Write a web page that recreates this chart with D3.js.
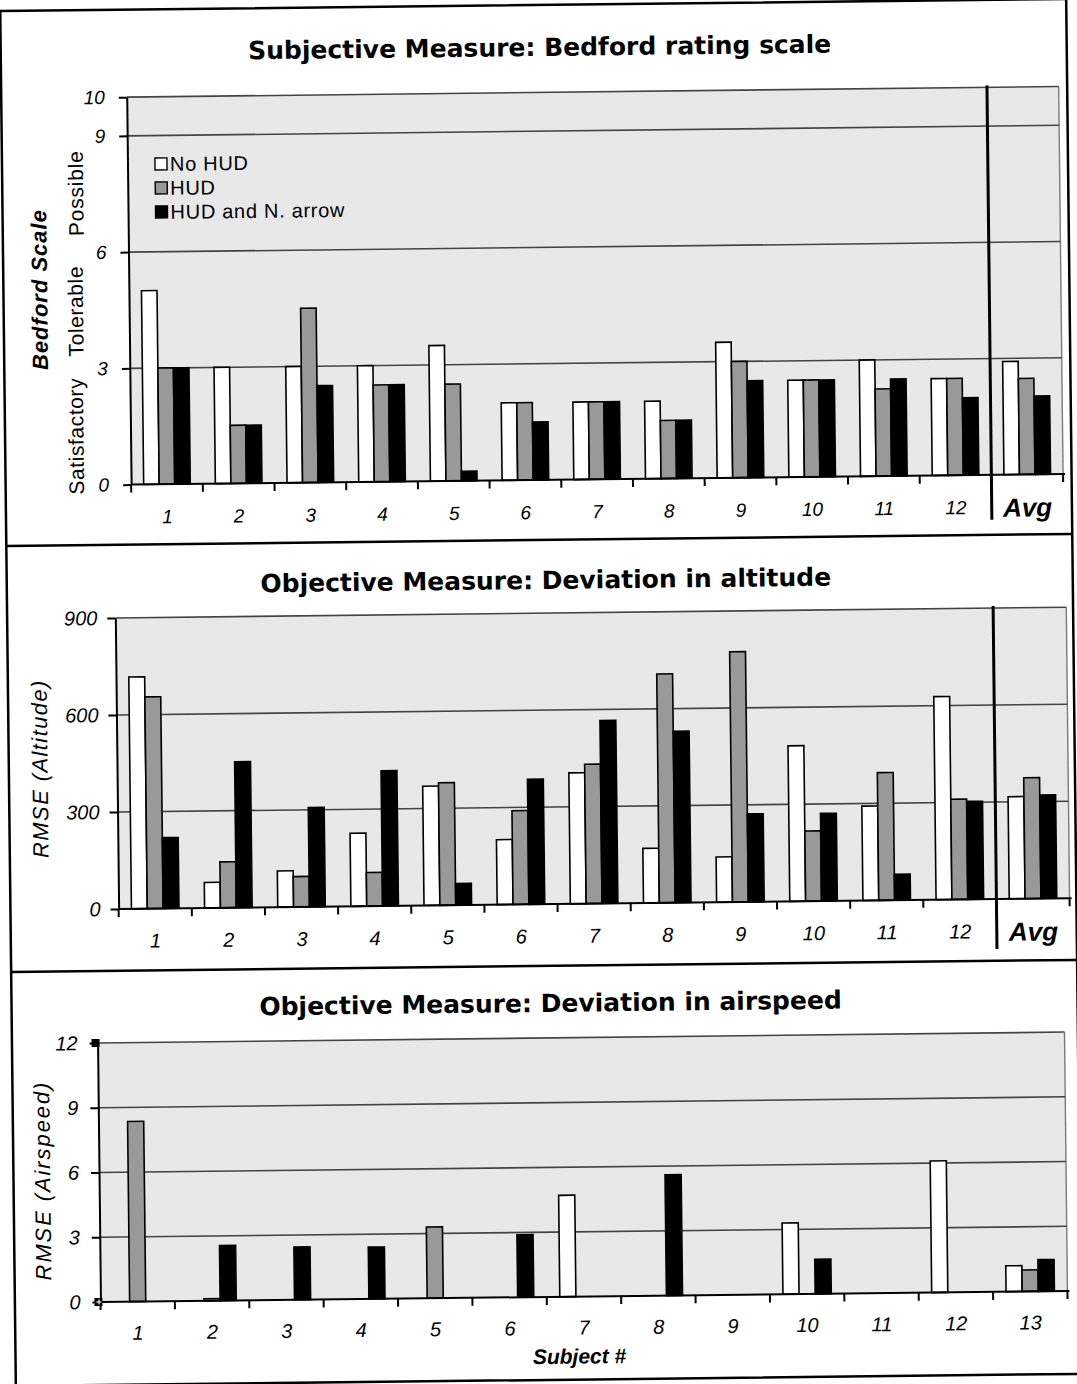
<!DOCTYPE html>
<html><head><meta charset="utf-8">
<script src="https://cdn.jsdelivr.net/npm/d3@7"></script>
<style>body{margin:0;background:#fff} svg{display:block}</style>
</head><body>
<svg id="c" width="1077" height="1384"></svg>
<script>
// ---------- data ----------
const seriesNames = ["No HUD", "HUD", "HUD and N. arrow"];
const seriesFill = ["#ffffff", "#999999", "#000000"];

const subjectsAvg = ["1","2","3","4","5","6","7","8","9","10","11","12","Avg"];
const subjects13 = ["1","2","3","4","5","6","7","8","9","10","11","12","13"];

const bedfordNoHUD = [5, 3, 3, 3, 3.5, 2, 2, 2, 3.5, 2.5, 3, 2.5, 2.92];
const bedfordHUD   = [3, 1.5, 4.5, 2.5, 2.5, 2, 2, 1.5, 3, 2.5, 2.25, 2.5, 2.48];
const bedfordArrow = [3, 1.5, 2.5, 2.5, 0.25, 1.5, 2, 1.5, 2.5, 2.5, 2.5, 2, 2.02];
const bedfordTicks = [0, 3, 6, 9, 10];

const altNoHUD = [717, 79, 112, 226, 369, 201, 405, 169, 140, 481, 292, 628, 316];
const altHUD   = [655, 142, 94, 104, 379, 290, 431, 708, 774, 217, 395, 310, 374];
const altArrow = [219, 451, 307, 418, 67, 387, 566, 530, 272, 271, 80, 303, 320];
const altTicks = [0, 300, 600, 900];

const airNoHUD = [0, 0, 0, 0, 0, 0, 4.7, 0, 0, 3.3, 0, 6.1, 1.2];
const airHUD   = [8.35, 0.1, 0, 0, 3.3, 0, 0, 0, 0, 0, 0, 0, 1.0];
const airArrow = [0, 2.55, 2.45, 2.4, 0, 2.9, 0, 5.6, 0, 1.6, 0, 0, 1.47];
const airTicks = [0, 3, 6, 9, 12];

// ---------- drawing ----------
const svg = d3.select("#c");
const root = svg.append("g").attr("transform", "rotate(-0.65 538 692)");

// frame
root.append("rect").attr("x", 8).attr("y", 5).attr("width", 1066).attr("height", 1375)
  .attr("fill", "none").attr("stroke", "#000").attr("stroke-width", 2.5);
[540, 966].forEach(y => root.append("line").attr("x1", 8).attr("x2", 1074).attr("y1", y).attr("y2", y)
  .attr("stroke", "#000").attr("stroke-width", 2.5));

const SANS = "'Liberation Sans', Arial, sans-serif";

function panel(cfg) {
  const g = root.append("g");
  const x = d3.scaleBand().domain(cfg.cats).range([cfg.x0, cfg.x1]);
  const bw = x.bandwidth();
  const xs = d3.scaleBand().domain(d3.range(3)).range([bw * 0.175, bw * 0.825]);
  const y = d3.scaleLinear().domain([0, cfg.max]).range([cfg.y0, cfg.yTop]);

  // title
  g.append("text").attr("x", 547).attr("y", cfg.titleY).attr("text-anchor", "middle")
    .attr("font-family", "'DejaVu Sans', Verdana, sans-serif").attr("font-weight", "bold")
    .attr("font-size", 25).text(cfg.title);

  // plot background
  g.append("rect").attr("x", cfg.x0).attr("y", y(cfg.max)).attr("width", cfg.x1 - cfg.x0)
    .attr("height", cfg.y0 - y(cfg.max)).attr("fill", "#e8e8e8");
  g.append("line").attr("x1", cfg.x1).attr("x2", cfg.x1).attr("y1", y(cfg.max)).attr("y2", cfg.y0)
    .attr("stroke", "#7a7a7a").attr("stroke-width", 1.4);

  // gridlines
  g.selectAll(".grid").data(cfg.ticks.filter(t => t > 0)).join("line")
    .attr("x1", cfg.x0).attr("x2", cfg.x1).attr("y1", d => y(d)).attr("y2", d => y(d))
    .attr("stroke", "#444").attr("stroke-width", 1.6);

  // bars
  const rows = [];
  cfg.series.forEach((arr, s) => arr.forEach((v, i) => { if (v > 0) rows.push({ cat: cfg.cats[i], s, v }); }));
  g.selectAll(".bar").data(rows).join("rect")
    .attr("x", d => x(d.cat) + xs(d.s)).attr("width", xs.bandwidth())
    .attr("y", d => y(d.v)).attr("height", d => cfg.y0 - y(d.v))
    .attr("fill", d => seriesFill[d.s]).attr("stroke", "#000").attr("stroke-width", 1.6);

  // y axis
  const ya = g.append("g").attr("transform", `translate(${cfg.x0},0)`)
    .call(d3.axisLeft(y).tickValues(cfg.ticks).tickSize(8).tickSizeOuter(0).tickPadding(cfg.yPad));
  ya.select(".domain").attr("stroke-width", 2);
  ya.selectAll(".tick line").attr("stroke-width", 2);
  ya.selectAll(".tick text").attr("font-family", SANS).attr("font-style", "italic")
    .attr("font-size", cfg.tickFont).attr("fill", "#000");

  // x axis
  g.append("line").attr("x1", cfg.x0).attr("x2", cfg.x1 + 2).attr("y1", cfg.y0).attr("y2", cfg.y0)
    .attr("stroke", "#000").attr("stroke-width", 2);
  const bounds = cfg.cats.map(c => x(c)).concat([cfg.x1]);
  g.selectAll(".xt").data(bounds).join("line")
    .attr("x1", d => d).attr("x2", d => d).attr("y1", cfg.y0).attr("y2", cfg.y0 + 8)
    .attr("stroke", "#000").attr("stroke-width", 2);
  const xa = g.append("g").attr("transform", `translate(0,${cfg.y0})`)
    .call(d3.axisBottom(x).tickSize(0).tickPadding(0));
  xa.select(".domain").remove();
  xa.selectAll(".tick text").attr("dy", null).attr("y", cfg.labelDy)
    .attr("font-family", SANS).attr("font-style", "italic").attr("font-size", cfg.tickFont).attr("fill", "#000");
  xa.selectAll(".tick text").filter(d => d === "Avg")
    .attr("font-weight", "bold").attr("font-size", 26).attr("y", cfg.labelDy + 3);

  // average separator
  if (cfg.sep) {
    const sx = x("Avg");
    g.append("line").attr("x1", sx).attr("x2", sx).attr("y1", y(cfg.max) - 2).attr("y2", cfg.y0 + cfg.sepBelow)
      .attr("stroke", "#000").attr("stroke-width", 3);
  }
  return { g, x, y };
}

// Panel 1
const p1 = panel({
  cats: subjectsAvg, series: [bedfordNoHUD, bedfordHUD, bedfordArrow], max: 10, ticks: bedfordTicks,
  x0: 133.5, x1: 1065.5, y0: 480, yTop: 92.5, title: "Subjective Measure: Bedford rating scale", titleY: 56,
  yPad: 14, tickFont: 19, labelDy: 39, sep: true, sepBelow: 45
});
// legend
const leg = p1.g.append("g");
seriesNames.forEach((n, i) => {
  const cy = 159.7 + i * 24;
  leg.append("rect").attr("x", 161).attr("y", cy - 6).attr("width", 12).attr("height", 12)
    .attr("fill", seriesFill[i]).attr("stroke", "#000").attr("stroke-width", 1.4);
  leg.append("text").attr("x", 176).attr("y", cy + 7).attr("font-family", SANS).attr("font-size", 20)
    .attr("letter-spacing", 0.7).text(n);
});
// y labels panel 1
function vlabel(g, x, y, txt, size, opts = {}) {
  g.append("text").attr("transform", `translate(${x},${y}) rotate(-90)`).attr("text-anchor", "middle")
    .attr("dy", "0.35em").attr("font-family", SANS).attr("font-size", size)
    .attr("font-style", opts.italic ? "italic" : "normal").attr("font-weight", opts.bold ? "bold" : "normal")
    .attr("letter-spacing", opts.ls || 0).text(txt);
}
vlabel(p1.g, 44, 284, "Bedford Scale", 22, { italic: true, bold: true, ls: 1.0 });
vlabel(p1.g, 79, 431, "Satisfactory", 21, { ls: 0.6 });
vlabel(p1.g, 80, 306, "Tolerable", 21, { ls: 0.6 });
vlabel(p1.g, 81.5, 188, "Possible", 21, { ls: 0.8 });

// Panel 2
const p2 = panel({
  cats: subjectsAvg, series: [altNoHUD, altHUD, altArrow], max: 900, ticks: altTicks,
  x0: 116.2, x1: 1067.2, y0: 904.2, yTop: 613.2, title: "Objective Measure: Deviation in altitude", titleY: 589,
  yPad: 10, tickFont: 20, labelDy: 39, sep: true, sepBelow: 50
});
vlabel(p2.g, 39, 763, "RMSE (Altitude)", 22, { italic: true, ls: 1.4 });

// Panel 3
const p3 = panel({
  cats: subjects13, series: [airNoHUD, airHUD, airArrow], max: 12, ticks: airTicks,
  x0: 93.6, x1: 1060.6, y0: 1297, yTop: 1038, title: "Objective Measure: Deviation in airspeed", titleY: 1012,
  yPad: 12, tickFont: 20, labelDy: 38, sep: false
});
vlabel(p3.g, 37, 1175, "RMSE (Airspeed)", 22, { italic: true, ls: 1.9 });
// axis end markers
p3.g.append("rect").attr("x", 93.6 - 6).attr("y", p3.y(12) - 4).attr("width", 8).attr("height", 8).attr("fill", "#000");
p3.g.append("rect").attr("x", 93.6 - 6).attr("y", p3.y(0) - 4).attr("width", 8).attr("height", 8)
  .attr("fill", "#000");
p3.g.append("path").attr("d", `M${93.6 - 4},${p3.y(0)}h5M${93.6 - 1.5},${p3.y(0) - 2.5}v5`)
  .attr("stroke", "#fff").attr("stroke-width", 1.2);
p3.g.append("text").attr("x", 572).attr("y", 1364).attr("text-anchor", "middle").attr("font-family", SANS)
  .attr("font-style", "italic").attr("font-weight", "bold").attr("font-size", 21).text("Subject #");
</script>
</body></html>
